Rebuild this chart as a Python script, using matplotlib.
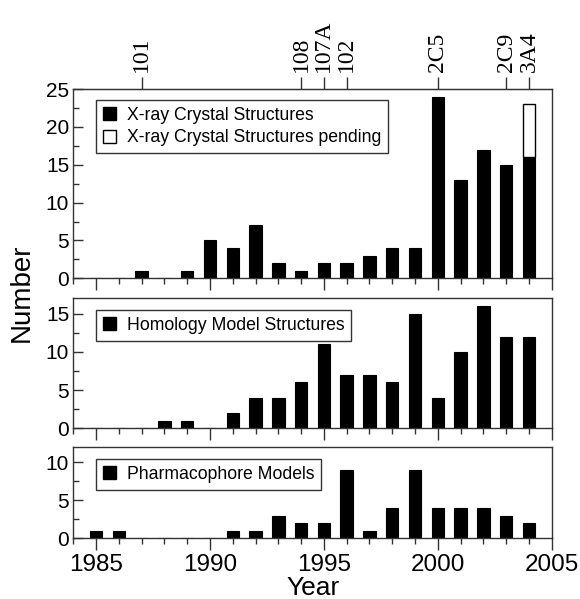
import matplotlib.pyplot as plt
from matplotlib.patches import Patch
from matplotlib.ticker import MultipleLocator, NullFormatter

plt.rcParams['font.family'] = ['Liberation Sans', 'DejaVu Sans']

# data
years = list(range(1985, 2005))
xray = [0, 0, 1, 0, 1, 5, 4, 7, 2, 1, 2, 2, 3, 4, 4, 24, 13, 17, 15, 16]
xray_pending = [0, 0, 0, 0, 0, 0, 0, 0, 0, 0, 0, 0, 0, 0, 0, 0, 0, 0, 0, 7]
homology = [0, 0, 0, 1, 1, 0, 2, 4, 4, 6, 11, 7, 7, 6, 15, 4, 10, 16, 12, 12]
pharmacophore = [1, 1, 0, 0, 0, 0, 1, 1, 3, 2, 2, 9, 1, 4, 9, 4, 4, 4, 3, 2]

isoform_years = [1987, 1994, 1995, 1996, 2000, 2003, 2004]
isoform_labels = ['101', '108', '107A', '102', '2C5', '2C9', '3A4']

fig = plt.figure(figsize=(5.8, 5.99), dpi=100)

left, width = 0.1264, 0.8248
ax1 = fig.add_axes([left, 0.5354, width, 0.316])
ax2 = fig.add_axes([left, 0.285, width, 0.217])
ax3 = fig.add_axes([left, 0.1013, width, 0.152])

bar_w = 0.55
spine_col = '#333333'

ax1.bar(years, xray, width=bar_w, color='black', edgecolor='black', linewidth=0.8)
pend_x = [y for y, p in zip(years, xray_pending) if p > 0]
pend_h = [p for p in xray_pending if p > 0]
pend_b = [x for x, p in zip(xray, xray_pending) if p > 0]
ax1.bar(pend_x, pend_h, bottom=pend_b, width=bar_w, color='white',
        edgecolor='black', linewidth=1.0)
ax2.bar(years, homology, width=bar_w, color='black', edgecolor='black', linewidth=0.8)
ax3.bar(years, pharmacophore, width=bar_w, color='black', edgecolor='black', linewidth=0.8)

ax1.set_ylim(0, 25)
ax2.set_ylim(0, 17)
ax3.set_ylim(0, 12)

for ax in (ax1, ax2, ax3):
    ax.set_xlim(1984, 2005)
    ax.xaxis.set_major_locator(MultipleLocator(5))
    ax.xaxis.set_minor_locator(MultipleLocator(1))
    ax.yaxis.set_major_locator(MultipleLocator(5))
    ax.yaxis.set_minor_locator(MultipleLocator(2.5))
    ax.tick_params(axis='x', which='both', direction='out', top=False,
                   bottom=True, color=spine_col, width=1, labelsize=17.5, pad=3)
    ax.tick_params(axis='x', which='major', length=8.5)
    ax.tick_params(axis='x', which='minor', length=4.5)
    ax.tick_params(axis='y', which='both', direction='in', right=False,
                   color=spine_col, width=1, labelsize=15, pad=3)
    ax.tick_params(axis='y', which='major', length=7)
    ax.tick_params(axis='y', which='minor', length=4.5)
    for s in ax.spines.values():
        s.set_color(spine_col)
        s.set_linewidth(1.0)

ax1.xaxis.set_major_formatter(NullFormatter())
ax2.xaxis.set_major_formatter(NullFormatter())

# isoform labels on top of the first panel
top = ax1.secondary_xaxis('top')
top.set_xticks(isoform_years, labels=isoform_labels, rotation=90,
               family='Liberation Serif', fontsize=17)
top.tick_params(direction='out', length=8.5, width=1, color=spine_col, pad=4)
top.spines['top'].set_color(spine_col)

leg_kw = dict(loc='upper left', borderaxespad=0, fancybox=False, fontsize=12.7,
              handlelength=0.75, handleheight=0.75, handletextpad=0.6,
              labelspacing=0.3, borderpad=0.4, framealpha=1)

lg1 = ax1.legend(handles=[Patch(facecolor='black', edgecolor='black'),
                          Patch(facecolor='white', edgecolor='black')],
                 labels=['X-ray Crystal Structures', 'X-ray Crystal Structures pending'],
                 bbox_to_anchor=(0.047, 0.942), **leg_kw)
lg2 = ax2.legend(handles=[Patch(facecolor='black', edgecolor='black')],
                 labels=['Homology Model Structures'],
                 bbox_to_anchor=(0.047, 0.91), **leg_kw)
lg3 = ax3.legend(handles=[Patch(facecolor='black', edgecolor='black')],
                 labels=['Pharmacophore Models'],
                 bbox_to_anchor=(0.047, 0.871), **leg_kw)
for lg in (lg1, lg2, lg3):
    lg.get_frame().set_edgecolor(spine_col)
    lg.get_frame().set_linewidth(1.0)

fig.text(0.038, 0.511, 'Number', rotation=90, ha='center', va='center', fontsize=20)
fig.text(0.539, 0.006, 'Year', ha='center', va='baseline', fontsize=19)

fig.savefig('out.png', dpi=100)
